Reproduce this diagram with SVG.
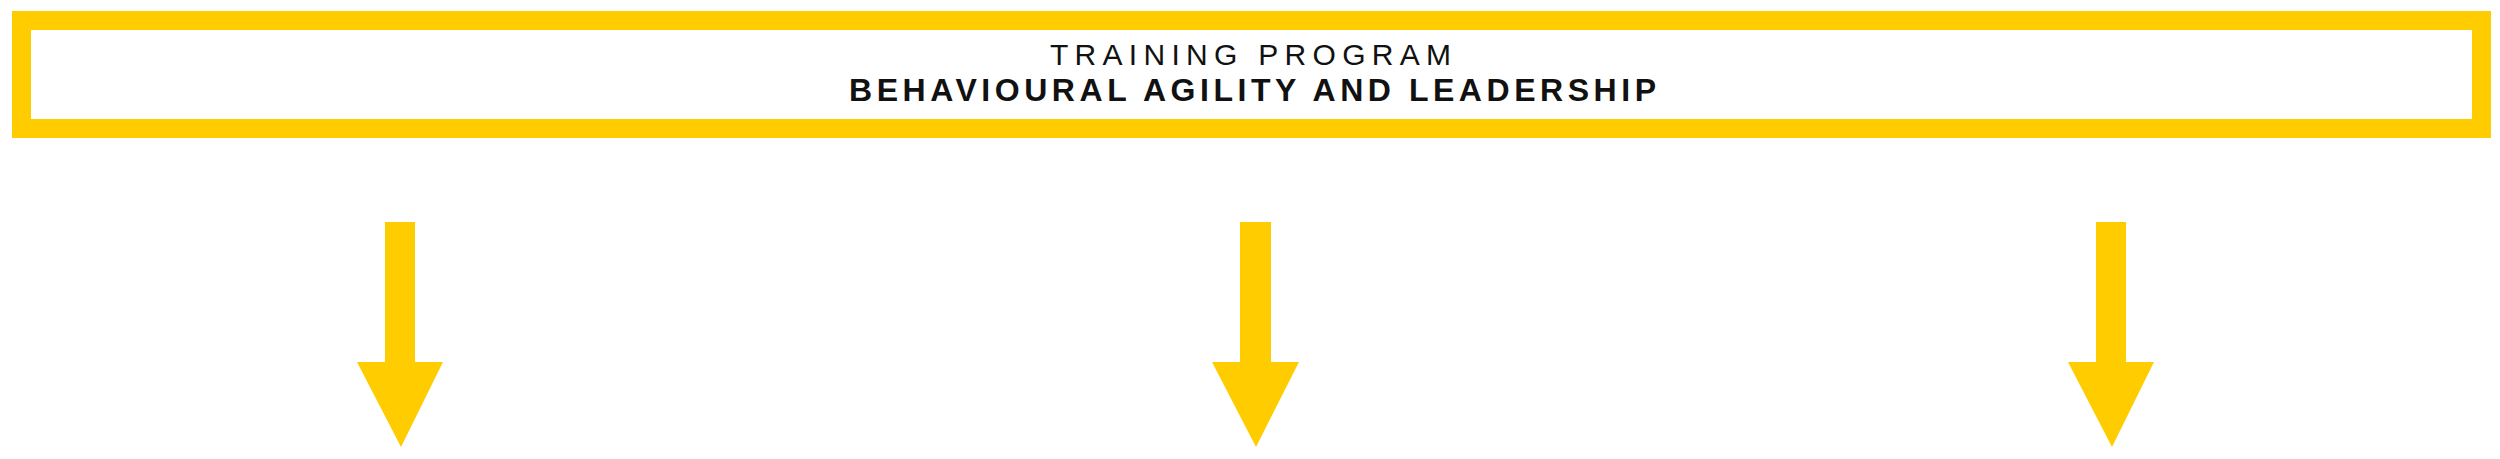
<svg xmlns="http://www.w3.org/2000/svg" width="2500" height="459" viewBox="0 0 2500 459">
  <style>
    .frame { fill: none; stroke: #FFCC00; stroke-width: 19; }
    .arrow { fill: #FFCC00; }
    .sub { font-family: "Liberation Sans", Arial, sans-serif; font-size: 30px; font-weight: 400; fill: #111111; }
    .title { font-family: "Liberation Sans", Arial, sans-serif; font-size: 32px; font-weight: 700; fill: #111111; }
  </style>
  <rect x="0" y="0" width="2500" height="459" fill="#FFFFFF"/>
  <g id="program">
    <rect class="frame" x="21.5" y="20.5" width="2460" height="108"/>
    <text class="sub" x="1050" y="65" textLength="401" lengthAdjust="spacing">TRAINING PROGRAM</text>
    <text class="title" x="849" y="101" textLength="807" lengthAdjust="spacing">BEHAVIOURAL AGILITY AND LEADERSHIP</text>
  </g>
  <g id="connectors">
    <polygon class="arrow" points="385,222 415,222 415,362 443,362 401,447 357,362 385,362"/>
    <polygon class="arrow" points="1240,222 1271,222 1271,362 1299,362 1256,447 1212,362 1240,362"/>
    <polygon class="arrow" points="2096,222 2126,222 2126,362 2154,362 2112,447 2068,362 2096,362"/>
  </g>
</svg>
